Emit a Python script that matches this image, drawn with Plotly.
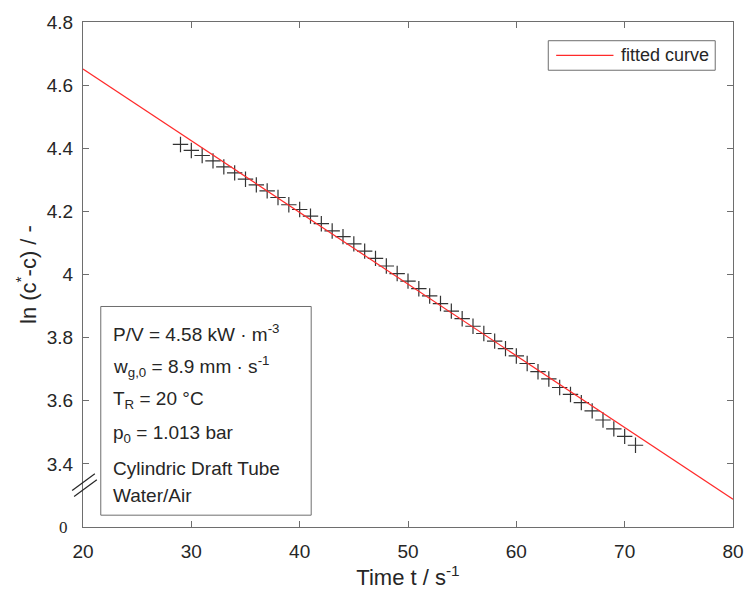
import plotly.graph_objects as go

# ---- data ----
time_s = [29, 30, 31, 32, 33, 34, 35, 36, 37, 38, 39, 40, 41, 42, 43, 44, 45,
          46, 47, 48, 49, 50, 51, 52, 53, 54, 55, 56, 57, 58, 59, 60,
          61, 62, 63, 64, 65, 66, 67, 68, 69, 70, 71]
ln_values = [4.412, 4.393, 4.377, 4.360, 4.341, 4.322, 4.302, 4.284, 4.265, 4.244, 4.221, 4.206,
             4.185, 4.161, 4.138, 4.120, 4.097,
             4.074, 4.051, 4.027, 4.003, 3.979, 3.955, 3.932, 3.908, 3.884, 3.860, 3.836,
             3.813, 3.789, 3.765, 3.742,
             3.718, 3.692, 3.669, 3.642, 3.620, 3.594, 3.568, 3.539, 3.511, 3.487, 3.459]
fit_t = [20, 80]
fit_v = [4.651, 3.288]
fit_name = "fitted curve"

x_ticks = [20, 30, 40, 50, 60, 70, 80]
y_ticks = [3.4, 3.6, 3.8, 4.0, 4.2, 4.4, 4.6, 4.8]
y_tick_labels = ["3.4", "3.6", "3.8", "4", "4.2", "4.4", "4.6", "4.8"]

info_lines = [
    "P/V = 4.58 kW · m<sup>-3</sup>",
    "w<sub>g,0</sub> = 8.9 mm · s<sup>-1</sup>",
    "T<sub>R</sub> = 20 °C",
    "p<sub>0</sub> = 1.013 bar",
    "Cylindric Draft Tube",
    "Water/Air",
]

TXT = "#262626"
AX = "#6e6e6e"
FONT = "Liberation Sans, Arial, sans-serif"

fig = go.Figure()
fig.add_trace(go.Scatter(
    x=time_s, y=ln_values, mode="markers", showlegend=False,
    marker=dict(symbol="cross-thin-open", size=11, color="#333333",
                line=dict(width=1.2, color="#333333")),
))
fig.add_trace(go.Scatter(
    x=fit_t, y=fit_v, mode="lines", name=fit_name, showlegend=False,
    line=dict(color="#ff2a2a", width=1.2),
))

W, H = 756, 601
L, R, T, B = 83, 15, 14, 74
pw, ph = W - L - R, H - T - B

def px2paper_x(px):
    return (px - L) / pw

def px2paper_y(py):
    return 1 - (py - T) / ph

fig.update_layout(
    width=W, height=H,
    margin=dict(l=L, r=R, t=T, b=B, pad=0),
    paper_bgcolor="white", plot_bgcolor="white",
    font=dict(family=FONT, color=TXT, size=19),
    showlegend=False,
    xaxis=dict(
        range=[20, 80], tickvals=x_ticks, ticks="inside", ticklen=6,
        tickcolor=AX, showline=True, linecolor=AX, linewidth=1, mirror="ticks",
        showgrid=False, zeroline=False, tickfont=dict(size=19, color=TXT),
        ticklabelstandoff=7,
        title=dict(text="Time t / s<sup>-1</sup>", font=dict(size=22, color=TXT), standoff=6),
    ),
    yaxis=dict(
        range=[3.2, 4.8], tickvals=y_ticks, ticktext=y_tick_labels, ticks="inside",
        ticklen=6, tickcolor=AX, showline=True, linecolor=AX, linewidth=1,
        mirror="ticks", showgrid=False, zeroline=False,
        tickfont=dict(size=19, color=TXT), ticklabelstandoff=5,
        title=dict(text="ln (c<sup>*</sup>-c) / -", font=dict(size=22, color=TXT), standoff=4),
    ),
)

# legend drawn as a box with a line sample and label
fig.add_shape(type="rect", xref="paper", yref="paper",
              x0=px2paper_x(554), y0=px2paper_y(63), x1=px2paper_x(723), y1=px2paper_y(33),
              line=dict(color=AX, width=1), fillcolor="white", layer="above")
fig.add_shape(type="line", xref="paper", yref="paper",
              x0=px2paper_x(562), y0=px2paper_y(48), x1=px2paper_x(620), y1=px2paper_y(48),
              line=dict(color="#ff2a2a", width=1.2), layer="above")
fig.add_annotation(x=px2paper_x(626), y=px2paper_y(48), xref="paper", yref="paper",
                   text=fit_name, showarrow=False, xanchor="left", yanchor="middle",
                   font=dict(size=18, color=TXT))

# "0" label at the broken axis bottom
fig.add_annotation(
    x=px2paper_x(70), y=3.2, xref="paper", yref="y", text="0", showarrow=False,
    xanchor="right", yanchor="middle",
    font=dict(family="Liberation Serif, Times New Roman, serif", size=17, color=TXT),
)

# axis break marks
for (x0, y0, x1, y1) in [(72, 490, 95, 473), (74, 496, 97, 479)]:
    fig.add_shape(type="line", xref="paper", yref="paper",
                  x0=px2paper_x(x0), y0=px2paper_y(y0),
                  x1=px2paper_x(x1), y1=px2paper_y(y1),
                  line=dict(color=TXT, width=1.2))

# info box
fig.add_shape(type="rect", xref="paper", yref="paper",
              x0=px2paper_x(101), y0=px2paper_y(515),
              x1=px2paper_x(314), y1=px2paper_y(303),
              line=dict(color=AX, width=1), fillcolor="white", layer="above")

line_y = [330, 364, 398, 433, 468, 495]
for txt, py in zip(info_lines, line_y):
    fig.add_annotation(
        x=px2paper_x(111), y=px2paper_y(py), xref="paper", yref="paper",
        text=txt, showarrow=False, xanchor="left", yanchor="middle",
        font=dict(size=19, color=TXT),
    )

fig.write_html("out.html")
